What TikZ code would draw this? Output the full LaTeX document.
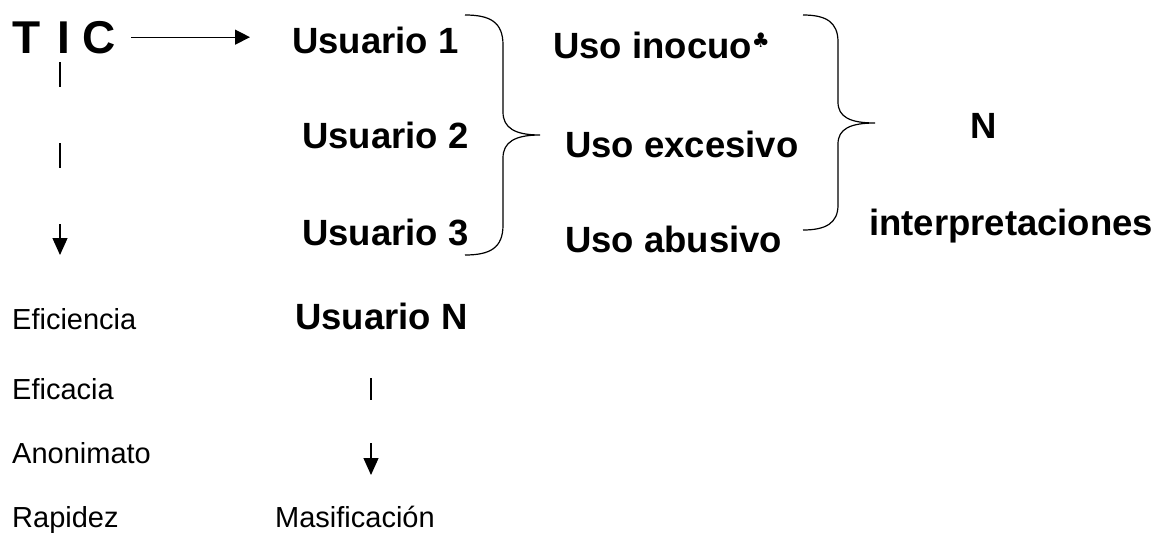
\documentclass[tikz,border=0pt]{standalone}
\usepackage{fontspec}
\setmainfont{Liberation Sans}
\newfontfamily\symbfont{DejaVu Sans}
\usetikzlibrary{arrows.meta}

\begin{document}
\begin{tikzpicture}[x=1pt, y=-1pt,
    every node/.style={inner sep=0pt, anchor=base west},
    big/.style={font=\bfseries\fontsize{36.5}{40}\selectfont},
    plain/.style={font=\fontsize{29}{32}\selectfont},
    tipline/.style={line width=1.3pt, -{Triangle[length=15pt,width=15pt]}},
    downline/.style={line width=1.3pt, dash pattern=on 25pt off 56pt,
      -{Triangle[length=17pt,width=15pt]}},
    bracket/.style={line width=1.2pt}]
    \useasboundingbox (0,0) rectangle (1160,533);
    \node [font=\bfseries\fontsize{46}{50}\selectfont] (tic) at (12,53) {T\hspace{4pt} I C};
    \node [big] (usr1) at (292,53) {Usuario 1};
    \node [big] (usr2) at (302,148) {Usuario 2};
    \node [big] (usr3) at (302,245) {Usuario 3};
    \node [big] (usrN) at (295,329) {Usuario N};
    \node [big] (inocuo) at (553,58)
      {Uso inocuo\raisebox{11pt}{\fontsize{20}{20}\symbfont ♣}};
    \node [big] (excesivo) at (565,157) {Uso excesivo};
    \node [big] (abusivo) at (565,252) {Uso abusivo};
    \node [big] (nnum) at (970,138) {N};
    \node [big] (interp) at (869,235) {interpretaciones};
    \node [plain] (eficiencia) at (12,329) {Eficiencia};
    \node [plain] (eficacia) at (12,399) {Eficacia};
    \node [plain] (anonimato) at (12,463) {Anonimato};
    \node [plain] (rapidez) at (12,527) {Rapidez};
    \node [plain] (masif) at (275,527) {Masificación};
    \coordinate (ticdown) at (60,62);
    \coordinate (ticend) at (60,255);
    \coordinate (usrdown) at (371,378);
    \coordinate (usrend) at (371,475);
    % arrows
    \draw [tipline, shorten <=15pt, shorten >=42pt] (tic.east) -- (tic.east -| usr1.west);
    \draw [downline] (ticdown) -- (ticend);
    \draw [downline, dash pattern=on 22pt off 43pt] (usrdown) -- (usrend);
    % braces
    \draw [bracket] (465,15) .. controls (490,15) and (503,22) .. (503,45)
      -- (503,112) .. controls (503,128) and (515,135) .. (540,135)
      .. controls (515,135) and (503,142) .. (503,158)
      -- (503,225) .. controls (503,248) and (490,255) .. (465,255);
    \draw [bracket] (803,15) .. controls (826,15) and (838,22) .. (838,42)
      -- (838,102) .. controls (838,117) and (850,123) .. (875,123)
      .. controls (850,123) and (838,129) .. (838,144)
      -- (838,205) .. controls (838,223) and (826,230) .. (803,230);
\end{tikzpicture}
\end{document}
